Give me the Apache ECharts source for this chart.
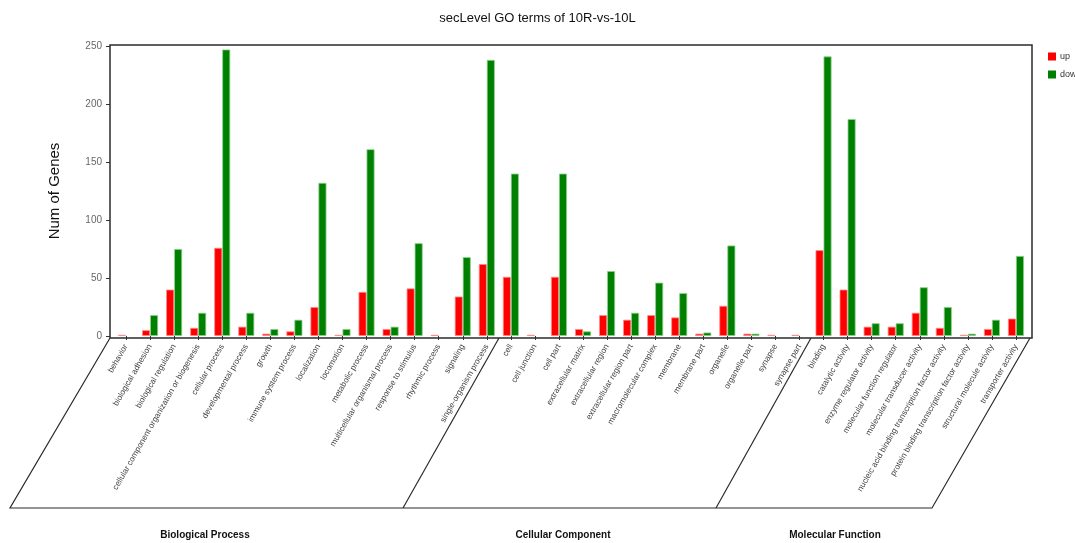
<!DOCTYPE html>
<html>
<head>
<meta charset="utf-8">
<title>secLevel GO terms of 10R-vs-10L</title>
<script src="https://cdn.jsdelivr.net/npm/echarts@6/dist/echarts.min.js"></script>
<style>
  html, body { margin: 0; padding: 0; background: #fff; }
  #chart { width: 1075px; height: 543px; }
</style>
</head>
<body>
<div id="chart"></div>
<script>
// GO level-2 terms, grouped by ontology (16 BP, 13 CC, 9 MF)
const categories = [
  'behavior', 'biological adhesion', 'biological regulation',
  'cellular component organization or biogenesis', 'cellular process',
  'developmental process', 'growth', 'immune system process', 'localization',
  'locomotion', 'metabolic process', 'multicellular organismal process',
  'response to stimulus', 'rhythmic process', 'signaling', 'single-organism process',
  'cell', 'cell junction', 'cell part', 'extracellular matrix', 'extracellular region',
  'extracellular region part', 'macromolecular complex', 'membrane', 'membrane part',
  'organelle', 'organelle part', 'synapse', 'synapse part',
  'binding', 'catalytic activity', 'enzyme regulator activity',
  'molecular function regulator', 'molecular transducer activity',
  'nucleic acid binding transcription factor activity',
  'protein binding transcription factor activity', 'structural molecule activity',
  'transporter activity'
];

// Gene counts per term
const upCounts = [
  1, 5, 40, 7, 76, 8, 2, 4, 25, 1, 38, 6, 41, 1, 34, 62,
  51, 1, 51, 6, 18, 14, 18, 16, 2, 26, 2, 1, 1,
  74, 40, 8, 8, 20, 7, 1, 6, 15
];
const downCounts = [
  0, 18, 75, 20, 247, 20, 6, 14, 132, 6, 161, 8, 80, 0, 68, 238,
  140, 0, 140, 4, 56, 20, 46, 37, 3, 78, 2, 0, 0,
  241, 187, 11, 11, 42, 25, 2, 14, 69
];

const yTicks = [0, 50, 100, 150, 200, 250];

const ontologyNames = ['Biological Process', 'Cellular Component', 'Molecular Function'];

const FONT = 'Liberation Sans, Arial, Helvetica, sans-serif';

function toItems(values) {
  // zero-height bars get no outline so nothing is drawn for them
  return values.map(v => ({ value: v, itemStyle: v ? {} : { borderWidth: 0 } }));
}

const chart = echarts.init(document.getElementById('chart'), null, { renderer: 'canvas' });

const frameStroke = '#2b2b2b';

const option = {
  animation: false,
  textStyle: { fontFamily: FONT },
  title: {
    text: 'secLevel GO terms of 10R-vs-10L',
    left: 'center',
    top: 7,
    textStyle: { fontSize: 13, fontWeight: 'normal', color: '#111', fontFamily: FONT }
  },
  legend: {
    orient: 'vertical',
    left: 1043,
    top: 47,
    itemWidth: 8,
    itemHeight: 8,
    itemGap: 9,
    icon: 'rect',
    itemStyle: { borderWidth: 0 },
    textStyle: { fontSize: 9, color: '#333', fontFamily: FONT, padding: [0, 0, 0, -1] },
    data: ['up', 'down']
  },
  grid: { left: 114, right: 47, top: 46, bottom: 207, containLabel: false },
  xAxis: {
    type: 'category',
    data: categories,
    boundaryGap: true,
    axisLine: { show: false },
    axisTick: { show: true, alignWithLabel: true, length: 4, lineStyle: { color: '#333' } },
    axisLabel: {
      interval: 0,
      rotate: 60,
      margin: 9,
      fontSize: 8.2,
      color: '#3c3c3c',
      fontFamily: FONT
    },
    splitLine: { show: false }
  },
  yAxis: {
    type: 'value',
    min: yTicks[0],
    max: yTicks[yTicks.length - 1],
    interval: yTicks[1] - yTicks[0],
    offset: 4,
    name: 'Num of Genes',
    nameLocation: 'middle',
    nameGap: 48,
    nameTextStyle: { fontSize: 15, color: '#111', fontFamily: FONT },
    axisLine: { show: false },
    axisTick: { show: true, length: 4, lineStyle: { color: '#333' } },
    axisLabel: { fontSize: 10, color: '#666', margin: 8, fontFamily: FONT },
    splitLine: { show: false }
  },
  series: [
    {
      name: 'up',
      type: 'bar',
      data: toItems(upCounts),
      barWidth: 8,
      barGap: '0%',
      itemStyle: { color: '#ff0000', borderColor: '#ff8c8c', borderWidth: 0.8 }
    },
    {
      name: 'down',
      type: 'bar',
      data: toItems(downCounts),
      barWidth: 8,
      barGap: '0%',
      itemStyle: { color: '#008000', borderColor: '#8fd08f', borderWidth: 0.8 }
    }
  ],
  graphic: [
    // plot frame
    {
      type: 'rect', z: 100, silent: true,
      shape: { x: 110, y: 45, width: 922, height: 293 },
      style: { fill: null, stroke: frameStroke, lineWidth: 1.5 }
    },
    // slanted base panel under the axis
    {
      type: 'polyline', z: 100, silent: true,
      shape: { points: [[110, 338], [10, 508], [932, 508], [1030, 338]] },
      style: { fill: null, stroke: frameStroke, lineWidth: 1.2 }
    },
    // ontology separators
    {
      type: 'line', z: 100, silent: true,
      shape: { x1: 499, y1: 338, x2: 403, y2: 508 },
      style: { stroke: frameStroke, lineWidth: 1.2 }
    },
    {
      type: 'line', z: 100, silent: true,
      shape: { x1: 811, y1: 338, x2: 716, y2: 508 },
      style: { stroke: frameStroke, lineWidth: 1.2 }
    },
    // ontology names
    {
      type: 'text', z: 100, silent: true, x: 205, y: 535,
      style: { text: ontologyNames[0], fill: '#111', font: 'bold 10px ' + FONT, align: 'center', verticalAlign: 'middle' }
    },
    {
      type: 'text', z: 100, silent: true, x: 563, y: 535,
      style: { text: ontologyNames[1], fill: '#111', font: 'bold 10px ' + FONT, align: 'center', verticalAlign: 'middle' }
    },
    {
      type: 'text', z: 100, silent: true, x: 835, y: 535,
      style: { text: ontologyNames[2], fill: '#111', font: 'bold 10px ' + FONT, align: 'center', verticalAlign: 'middle' }
    }
  ]
};

chart.setOption(option);
</script>
</body>
</html>
